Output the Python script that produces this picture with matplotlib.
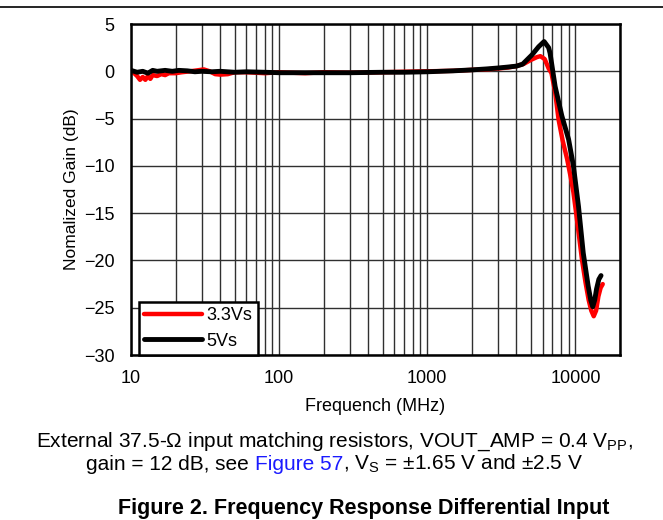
import matplotlib
matplotlib.use("Agg")
import matplotlib.pyplot as plt
from matplotlib.offsetbox import TextArea, HPacker, AnnotationBbox
from matplotlib.lines import Line2D

plt.rcParams['font.family'] = ['Liberation Sans', 'DejaVu Sans']
plt.rcParams['mathtext.fontset'] = 'custom'
plt.rcParams['mathtext.rm'] = 'Liberation Sans'
plt.rcParams['mathtext.it'] = 'Liberation Sans:italic'
plt.rcParams['mathtext.bf'] = 'Liberation Sans:bold'

# 3.3 V supply (red)
f_33 = [10, 10.5, 11, 11.5, 12, 12.5, 13, 13.5, 14, 15, 16, 17, 18, 20, 22, 25, 28,
        31, 34, 37, 40, 45, 50, 60, 70, 80, 100, 150, 200, 300, 500, 700, 1000,
        1500, 2000, 2500, 3000, 3500, 4000, 4500, 5000, 5500, 5800, 6200, 6600,
        6900, 7300, 7700, 8200, 8800, 9300, 9700, 10100, 10500, 11100, 11700,
        12300, 12800, 13300, 13800, 14300, 14800, 15300]
g_33 = [0.0, -0.2, -0.5, -0.9, -0.6, -0.9, -0.5, -0.8, -0.4, -0.5, -0.3, -0.4, -0.2,
        -0.2, -0.1, 0.0, 0.1, 0.2, 0.0, -0.3, -0.35, -0.3, -0.1, -0.1, -0.15, -0.2,
        -0.1, -0.2, -0.1, -0.15, -0.1, -0.05, 0.0, 0.05, 0.15, 0.2, 0.3, 0.4, 0.55,
        0.8, 1.2, 1.5, 1.6, 1.3, 0.3, -0.2, -2.2, -5.1, -7.3, -9.3, -11.2, -12.8,
        -14.9, -17.0, -20.0, -22.3, -24.2, -25.3, -25.9, -25.3, -23.8, -22.9, -22.5]

# 5 V supply (black)
f_5 = [10, 11, 12, 13, 14, 15, 17, 19, 21, 24, 27, 30, 35, 40, 50, 60, 80, 100, 150,
       200, 300, 500, 700, 1000, 1500, 2000, 2500, 3000, 3500, 4000, 4400, 5100,
       5650, 6150, 6600, 6750, 7300, 8100, 9000, 9700, 10500, 11300, 12200, 12700,
       13100, 13500, 13900, 14400, 14900]
g_5 = [0.1, -0.1, 0.0, -0.2, 0.1, 0.0, 0.1, 0.0, 0.1, 0.05, -0.05, 0.0, -0.05, 0.0,
       -0.1, -0.05, -0.1, -0.15, -0.15, -0.15, -0.15, -0.1, -0.1, -0.05, 0.05, 0.15,
       0.25, 0.35, 0.45, 0.55, 0.75, 1.75, 2.6, 3.15, 2.5, 1.9, -1.6, -4.7, -7.2,
       -10.0, -14.3, -19.2, -22.7, -24.2, -24.9, -24.2, -23.0, -22.0, -21.6]

x_ticks = [10, 100, 1000, 10000]
y_ticks = [5, 0, -5, -10, -15, -20, -25, -30]

FS = 13
CAP = 15

fig = plt.figure(figsize=(6.63, 5.2), dpi=100)
ax = fig.add_axes([0.1976, 0.3173, 0.7375, 0.6365])

ax.plot(f_33, g_33, color='#ff0000', lw=3.2, solid_capstyle='round',
        solid_joinstyle='round', label='3.3Vs', zorder=3)
ax.plot(f_5, g_5, color='black', lw=3.5, solid_capstyle='round',
        solid_joinstyle='round', label='5Vs', zorder=4)

ax.set_xscale('log')
ax.set_xlim(10, 20000)
ax.set_ylim(-30, 5)
ax.set_xticks(x_ticks)
ax.set_xticklabels([str(t) for t in x_ticks])
ax.set_yticks(y_ticks)
ax.minorticks_on()
ax.yaxis.set_minor_locator(matplotlib.ticker.NullLocator())
ax.xaxis.set_minor_formatter(matplotlib.ticker.NullFormatter())
ax.grid(True, which='both', axis='x', color='#303030', lw=1.0)
ax.grid(True, which='major', axis='y', color='#303030', lw=1.0)
ax.tick_params(which='both', length=0, labelsize=FS)
ax.tick_params(axis='y', pad=12)
ax.tick_params(axis='x', pad=11)
for s in ax.spines.values():
    s.set_linewidth(1.8)
    s.set_zorder(5)

ax.set_xlabel('Frequench (MHz)', fontsize=FS, labelpad=8)
ax.set_ylabel('Nomalized Gain (dB)', fontsize=12.5, labelpad=3.5)

leg = ax.legend(loc='lower left', bbox_to_anchor=(0.016, 0.0), borderaxespad=0,
                fontsize=FS, handlelength=3.2, handletextpad=0.26,
                labelspacing=0.45, fancybox=False, framealpha=1,
                edgecolor='black', borderpad=0.3)
leg.get_frame().set_linewidth(1.8)
leg.set_zorder(6)

# rule across the top of the page
fig.add_artist(Line2D([0, 1], [0.9865, 0.9865], color='black', lw=1.2,
                      transform=fig.transFigure))

fig.text(0.505, 0.1404, r'External 37.5-Ω input matching resistors, VOUT_AMP = 0.4 V$_{\mathrm{PP}}$,',
         ha='center', va='baseline', fontsize=CAP)

tp = dict(fontsize=CAP)
parts = [TextArea('gain = 12 dB, see ', textprops=tp),
         TextArea('Figure 57', textprops=dict(fontsize=CAP, color='#1a1aff')),
         TextArea(r', V$_{\mathrm{S}}$ = ±1.65 V and ±2.5 V', textprops=tp)]
box = HPacker(children=parts, pad=0, sep=0, align='baseline')
ab = AnnotationBbox(box, (0.5045, 0.108), xycoords='figure fraction',
                    frameon=False, box_alignment=(0.5, 0.5))
fig.add_artist(ab)

fig.text(0.549, 0.023, 'Figure 2. Frequency Response Differential Input',
         ha='center', va='center', fontsize=15.5, fontweight='bold')

fig.savefig('out.png', dpi=100)
